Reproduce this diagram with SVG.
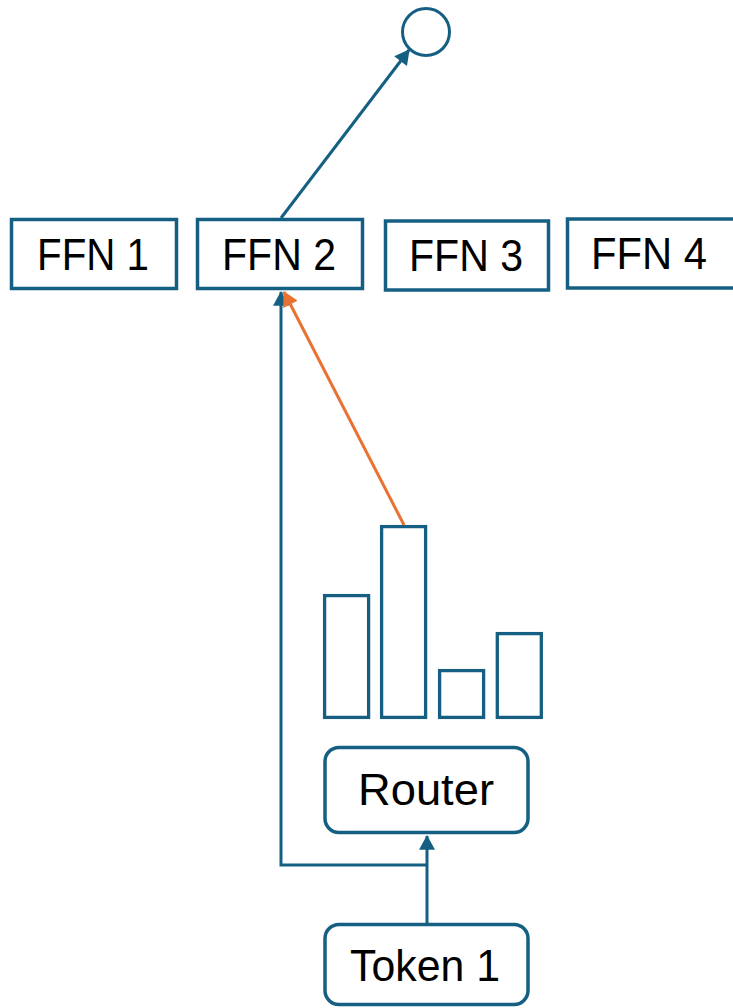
<svg xmlns="http://www.w3.org/2000/svg" width="733" height="1008" viewBox="0 0 733 1008">
<style>
.box{fill:#fff;stroke:#156082;stroke-width:3.5}
.bar{fill:#fff;stroke:#156082;stroke-width:3.3}
.lbl{font-family:"Liberation Sans",Arial,sans-serif;font-size:44px;fill:#000;text-anchor:middle}
.con{fill:none;stroke:#156082;stroke-width:3}
.org{fill:none;stroke:#E97132;stroke-width:3}
</style>
<defs>
<marker id="ab" markerUnits="userSpaceOnUse" markerWidth="16" markerHeight="16" refX="13" refY="7.5" orient="auto" viewBox="0 0 14 15">
<path d="M0,0 L14,7.5 L0,15 z" fill="#156082"/>
</marker>
<marker id="ao" markerUnits="userSpaceOnUse" markerWidth="16" markerHeight="16" refX="13" refY="7.5" orient="auto" viewBox="0 0 14 15">
<path d="M0,0 L14,7.5 L0,15 z" fill="#E97132"/>
</marker>
</defs>
<g id="connectors">
<line class="con" x1="281" y1="218" x2="409" y2="50" marker-end="url(#ab)"/>
<polyline class="con" points="427,865 281,865 281,292" marker-end="url(#ab)"/>
<line class="con" x1="427" y1="923" x2="427" y2="836" marker-end="url(#ab)"/>
<line class="org" x1="404" y1="525" x2="284" y2="292" marker-end="url(#ao)"/>
</g>
<g id="output">
<circle class="box" cx="426" cy="32" r="23.5" style="stroke-width:3"/>
</g>
<g id="ffn1">
<rect class="box" x="11.5" y="219.5" width="165" height="69"/>
<text class="lbl" x="93" y="270" textLength="112" lengthAdjust="spacingAndGlyphs">FFN 1</text>
</g>
<g id="ffn2">
<rect class="box" x="197.5" y="219.5" width="165" height="69"/>
<text class="lbl" x="279" y="270" textLength="114" lengthAdjust="spacingAndGlyphs">FFN 2</text>
</g>
<g id="ffn3">
<rect class="box" x="385.5" y="221" width="163" height="69"/>
<text class="lbl" x="466" y="271" textLength="114" lengthAdjust="spacingAndGlyphs">FFN 3</text>
</g>
<g id="ffn4">
<rect class="box" x="567.5" y="219" width="168" height="69"/>
<text class="lbl" x="649" y="269" textLength="116" lengthAdjust="spacingAndGlyphs">FFN 4</text>
</g>
<g id="scores">
<rect class="bar" x="324.6" y="595.6" width="44" height="121.8"/>
<rect class="bar" x="381.6" y="526.6" width="44" height="190.8"/>
<rect class="bar" x="439.6" y="670.6" width="44" height="46.8"/>
<rect class="bar" x="497.3" y="633.6" width="44" height="83.8"/>
</g>
<g id="router">
<rect class="box" x="325" y="747.5" width="203" height="85" rx="14"/>
<text class="lbl" x="426" y="805" textLength="136" lengthAdjust="spacingAndGlyphs">Router</text>
</g>
<g id="token1">
<rect class="box" x="325" y="924.5" width="203" height="80" rx="14"/>
<text class="lbl" x="425" y="981" textLength="150" lengthAdjust="spacingAndGlyphs">Token 1</text>
</g>
</svg>
